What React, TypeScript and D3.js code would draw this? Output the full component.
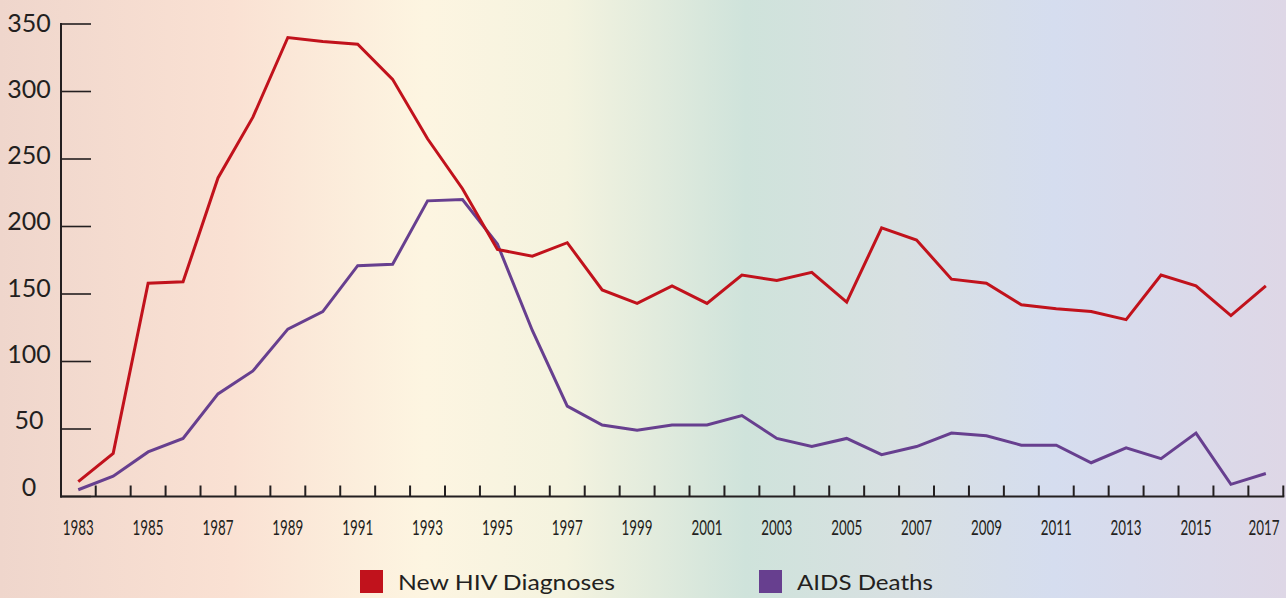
import React from 'react';
import * as d3 from 'd3';

const years = d3.range(1983, 2018).map(String);
const hivDiagnoses = [11, 32, 158, 159, 236, 281, 340, 337, 335, 309, 265, 228, 183, 178, 188, 153, 143, 156, 143, 164, 160, 166, 144, 199, 190, 161, 158, 142, 139, 137, 131, 164, 156, 134, 156];
const aidsDeaths = [5, 15, 33, 43, 76, 93, 124, 137, 171, 172, 219, 220, 187, 123, 67, 53, 49, 53, 53, 60, 43, 37, 43, 31, 37, 47, 45, 38, 38, 25, 36, 28, 47, 9, 17];
const yTicks = [0, 50, 100, 150, 200, 250, 300, 350];
const xLabels = years.filter((_, i) => i % 2 === 0);
const legendItems = [
  { label: 'New HIV Diagnoses', color: '#c1121c', x: 360, textLen: 217 },
  { label: 'AIDS Deaths', color: '#673f8f', x: 759, textLen: 136 },
];
const bgStops = [
  { offset: '0%', color: '#efd6cc' },
  { offset: '18%', color: '#fae1d3' },
  { offset: '33%', color: '#fdf5e1' },
  { offset: '44%', color: '#f4f3df' },
  { offset: '58%', color: '#cfe3db' },
  { offset: '70%', color: '#d8e0e2' },
  { offset: '82%', color: '#d5ddef' },
  { offset: '100%', color: '#ded7e6' },
];

const W = 1286;
const H = 598;
const INK = '#231f20';
const FONT = 'Lato, "Open Sans", sans-serif';

export default function App() {
  const x = d3.scaleBand<string>().domain(years).range([60.8, 1283.3]);
  const y = d3.scaleLinear().domain([0, 350]).range([496.5, 24]);
  // tick labels sit slightly off their ticks in the original
  const yLab = d3.scaleLinear().domain([0, 350]).range([486.5, 22.5]);
  const cx = (yr: string) => (x(yr) as number) + x.bandwidth() / 2;

  const line = d3.line<number>()
    .x((_, i) => cx(years[i]))
    .y(d => y(d));

  const boundaries = years.slice(1).map(yr => x(yr) as number).concat([x.range()[1]]);

  return (
    <svg width={W} height={H} style={{ position: 'fixed', left: 0, top: 0, display: 'block' }}>
      <defs>
        <linearGradient id="bg" x1="0%" y1="0%" x2="100%" y2="0%">
          {bgStops.map(s => <stop key={s.offset} offset={s.offset} stopColor={s.color} />)}
        </linearGradient>
      </defs>
      <rect x={0} y={0} width={W} height={H} fill="url(#bg)" />

      {/* y axis */}
      <line x1={61} x2={61} y1={y(350) - 1} y2={y(0) + 1} stroke={INK} strokeWidth={2} />
      {yTicks.map(t => (
        <g key={t}>
          <line x1={61} x2={91} y1={y(t)} y2={y(t)} stroke={INK} strokeWidth={1.6} />
          <text x={29} y={yLab(t)} dy="0.36em" textAnchor="middle" fontFamily={FONT} fontSize={25} fill={INK}>{t}</text>
        </g>
      ))}

      {/* x axis */}
      <line x1={60} x2={x.range()[1] + 1} y1={y(0)} y2={y(0)} stroke={INK} strokeWidth={2} />
      {boundaries.map((b, i) => (
        <line key={i} x1={b} x2={b} y1={y(0)} y2={y(0) - 11} stroke={INK} strokeWidth={2} />
      ))}
      {xLabels.map(yr => (
        <text key={yr} x={Math.min(cx(yr), 1264)} y={535} textAnchor="middle" fontFamily={FONT} fontSize={22} fill={INK}
          textLength={31} lengthAdjust="spacingAndGlyphs">{yr}</text>
      ))}

      {/* series */}
      <path d={line(aidsDeaths) ?? ''} fill="none" stroke="#673f8f" strokeWidth={3} />
      <path d={line(hivDiagnoses) ?? ''} fill="none" stroke="#c1121c" strokeWidth={3} />

      {/* legend */}
      {legendItems.map(it => (
        <g key={it.label}>
          <rect x={it.x} y={570} width={23} height={23} fill={it.color} />
          <text x={it.x + 38} y={589.5} fontFamily={FONT} fontSize={22} fill={INK}
            textLength={it.textLen} lengthAdjust="spacingAndGlyphs">{it.label}</text>
        </g>
      ))}
    </svg>
  );
}
